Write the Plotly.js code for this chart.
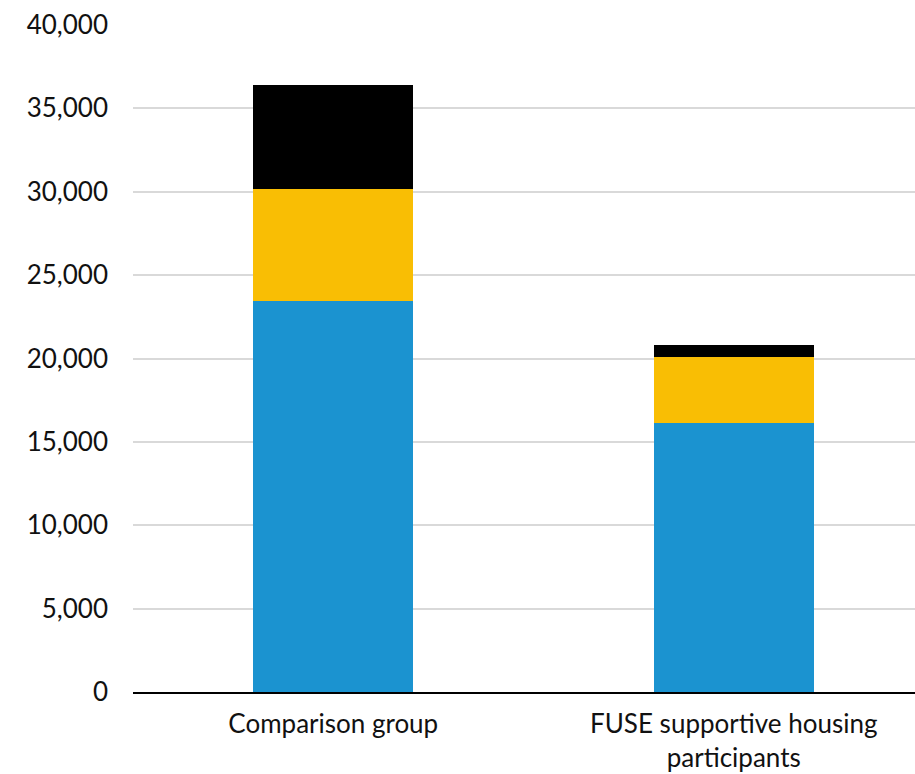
<!DOCTYPE html>
<html>
<head>
<meta charset="utf-8">
<script src="https://cdn.plot.ly/plotly-3.0.1.min.js"></script>
<style>
  html, body { margin: 0; padding: 0; background: #fff; }
  #chart { width: 915px; height: 774px; }
</style>
</head>
<body>
<div id="chart"></div>
<script>
// Categories along the x axis
const categories = ['Comparison group', 'FUSE supportive housing<br>participants'];

// Stacked segment values (bottom to top)
const segmentBlue = [23440, 16110];
const segmentYellow = [6710, 4010];
const segmentBlack = [6250, 690];

// Y axis ticks
const tickValues = [0, 5000, 10000, 15000, 20000, 25000, 30000, 35000, 40000];

const colors = { blue: '#1B93D0', yellow: '#F9BE04', black: '#000000' };

function barTrace(name, values, color) {
  return {
    type: 'bar',
    name: name,
    x: categories,
    y: values,
    width: 0.4,
    marker: { color: color, line: { width: 0 } },
    hoverinfo: 'skip'
  };
}

const data = [
  barTrace('Segment A', segmentBlue, colors.blue),
  barTrace('Segment B', segmentYellow, colors.yellow),
  barTrace('Segment C', segmentBlack, colors.black)
];

const layout = {
  width: 915,
  height: 774,
  barmode: 'stack',
  showlegend: false,
  paper_bgcolor: '#ffffff',
  plot_bgcolor: '#ffffff',
  margin: { l: 133, r: 0, t: 25, b: 81.5, pad: 0 },
  font: { family: 'Lato, "Open Sans", sans-serif', size: 26, color: '#111111' },
  xaxis: {
    type: 'category',
    range: [-0.5, 1.4526],
    showgrid: false,
    showline: true,
    linecolor: '#000000',
    linewidth: 2,
    ticks: '',
    ticklabelstandoff: 8,
    tickfont: { size: 26 },
    fixedrange: true
  },
  yaxis: {
    range: [0, 40000],
    tickvals: tickValues,
    tickformat: ',',
    showgrid: true,
    gridcolor: '#d9d9d9',
    gridwidth: 2,
    zeroline: false,
    showline: false,
    ticks: '',
    ticklabelstandoff: 24,
    tickfont: { size: 26 },
    fixedrange: true
  }
};

Plotly.newPlot('chart', data, layout, { displayModeBar: false, staticPlot: true });
</script>
</body>
</html>
